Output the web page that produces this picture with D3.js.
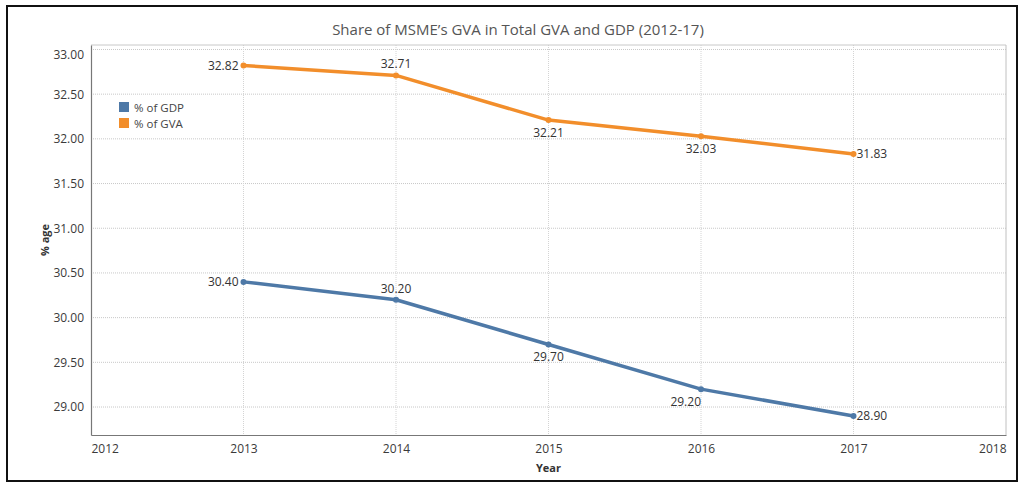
<!DOCTYPE html>
<html>
<head>
<meta charset="utf-8">
<script src="https://cdn.jsdelivr.net/npm/d3@7"></script>
<style>
  body { margin: 0; background: #fff; }
  svg text { font-family: "Open Sans", "Noto Sans", sans-serif; }
</style>
</head>
<body>
<div id="chart"></div>
<script>
// data
var years = [2013, 2014, 2015, 2016, 2017];
var gdpShare = [30.40, 30.20, 29.70, 29.20, 28.90];
var gvaShare = [32.82, 32.71, 32.21, 32.03, 31.83];
var yTicks = [29.00, 29.50, 30.00, 30.50, 31.00, 31.50, 32.00, 32.50, 33.00];
var xTicks = [2012, 2013, 2014, 2015, 2016, 2017, 2018];
var seriesNames = ['% of GDP', '% of GVA'];

// where each value label sits relative to its point
var gdpPlace = ['left', 'above', 'below', 'belowleft', 'right'];
var gvaPlace = ['left', 'above', 'below', 'below', 'right'];

var width = 1024, height = 489;
var colors = ['#4e79a7', '#f28e2b'];

var svg = d3.select('#chart').append('svg')
  .attr('width', width).attr('height', height);

// outer frame
svg.append('rect')
  .attr('x', 7).attr('y', 6).attr('width', 1010).attr('height', 475)
  .attr('fill', '#fff').attr('stroke', '#111').attr('stroke-width', 2);

var plot = { left: 91, right: 1006, top: 45, bottom: 435 };

var x = d3.scaleLinear().domain([2012, 2018]).range([plot.left, plot.right]);
var y = d3.scaleLinear().domain([28.687, 33.05]).range([plot.bottom, plot.top]);

// title
svg.append('text')
  .attr('x', 518).attr('y', 35)
  .attr('text-anchor', 'middle')
  .attr('font-size', 15)
  .attr('fill', '#555')
  .text('Share of MSME\u2019s GVA in Total GVA and GDP (2012-17)');

// grid lines
svg.append('g').selectAll('line.h')
  .data(yTicks)
  .enter().append('line')
  .attr('x1', plot.left).attr('x2', plot.right)
  .attr('y1', function (d) { return y(d); })
  .attr('y2', function (d) { return y(d); })
  .attr('stroke', '#c8c8c8').attr('stroke-width', 1)
  .attr('stroke-dasharray', '1,1');

svg.append('g').selectAll('line.v')
  .data(xTicks.slice(1, -1))
  .enter().append('line')
  .attr('y1', plot.top).attr('y2', plot.bottom)
  .attr('x1', function (d) { return x(d); })
  .attr('x2', function (d) { return x(d); })
  .attr('stroke', '#d4d4d4').attr('stroke-width', 1)
  .attr('stroke-dasharray', '1,1');

// plot border: light on top/right, darker on left/bottom
svg.append('line').attr('x1', plot.left).attr('x2', plot.right)
  .attr('y1', plot.top).attr('y2', plot.top).attr('stroke', '#c8c8c8');
svg.append('line').attr('x1', plot.right).attr('x2', plot.right)
  .attr('y1', plot.top).attr('y2', plot.bottom).attr('stroke', '#c0c0c0');

// y axis
var yAxis = svg.append('g')
  .attr('transform', 'translate(' + plot.left + ',0)')
  .call(d3.axisLeft(y).tickValues(yTicks).tickSize(0).tickPadding(7)
    .tickFormat(d3.format('.2f')));
yAxis.select('.domain').attr('stroke', '#777').attr('stroke-width', 1.2);
yAxis.selectAll('text')
  .attr('font-size', 12).attr('fill', '#3a3a3a')
  .attr('dy', function (d) { return d === 33 ? '0.75em' : '0.32em'; });

// x axis
var xAxis = svg.append('g')
  .attr('transform', 'translate(0,' + plot.bottom + ')')
  .call(d3.axisBottom(x).tickValues(xTicks).tickSize(0).tickPadding(9)
    .tickFormat(d3.format('d')));
xAxis.select('.domain').attr('stroke', '#777').attr('stroke-width', 1.2);
xAxis.selectAll('text')
  .attr('font-size', 12).attr('fill', '#3a3a3a')
  .attr('text-anchor', function (d, i) {
    return i === 0 ? 'start' : (i === xTicks.length - 1 ? 'end' : 'middle');
  });

// axis titles
svg.append('text')
  .attr('x', x(2015)).attr('y', 472)
  .attr('text-anchor', 'middle')
  .attr('font-size', 11).attr('font-weight', 'bold').attr('fill', '#333')
  .text('Year');

svg.append('text')
  .attr('transform', 'translate(49,' + ((plot.top + plot.bottom) / 2) + ') rotate(-90)')
  .attr('text-anchor', 'middle')
  .attr('font-size', 11).attr('font-weight', 'bold').attr('fill', '#333')
  .text('% age');

// lines
var line = d3.line()
  .x(function (d) { return x(d[0]); })
  .y(function (d) { return y(d[1]); });

function drawSeries(values, place, color) {
  var pts = years.map(function (yr, i) { return [yr, values[i], place[i]]; });

  svg.append('path')
    .datum(pts)
    .attr('d', line)
    .attr('fill', 'none')
    .attr('stroke', color)
    .attr('stroke-width', 3.5)
    .attr('stroke-linejoin', 'round');

  svg.append('g').selectAll('circle')
    .data(pts)
    .enter().append('circle')
    .attr('cx', function (d) { return x(d[0]); })
    .attr('cy', function (d) { return y(d[1]); })
    .attr('r', 3)
    .attr('fill', color);

  svg.append('g').selectAll('text')
    .data(pts)
    .enter().append('text')
    .attr('font-size', 12).attr('fill', '#333')
    .attr('x', function (d) {
      var px = x(d[0]);
      if (d[2] === 'left') return px - 5;
      if (d[2] === 'right') return px + 3;
      return px;
    })
    .attr('y', function (d) {
      var py = y(d[1]);
      if (d[2] === 'above') return py - 7;
      if (d[2] === 'below' || d[2] === 'belowleft') return py + 17;
      return py + 4;
    })
    .attr('text-anchor', function (d) {
      if (d[2] === 'left' || d[2] === 'belowleft') return 'end';
      if (d[2] === 'right') return 'start';
      return 'middle';
    })
    .text(function (d) { return d3.format('.2f')(d[1]); });
}

drawSeries(gdpShare, gdpPlace, colors[0]);
drawSeries(gvaShare, gvaPlace, colors[1]);

// legend
var legend = svg.append('g').attr('transform', 'translate(119,102)');
seriesNames.forEach(function (name, i) {
  legend.append('rect')
    .attr('x', 0).attr('y', i * 16)
    .attr('width', 10).attr('height', 10)
    .attr('fill', colors[i]);
  legend.append('text')
    .attr('x', 15).attr('y', i * 16 + 9.5)
    .attr('font-size', 11.5).attr('fill', '#444')
    .text(name);
});
</script>
</body>
</html>
